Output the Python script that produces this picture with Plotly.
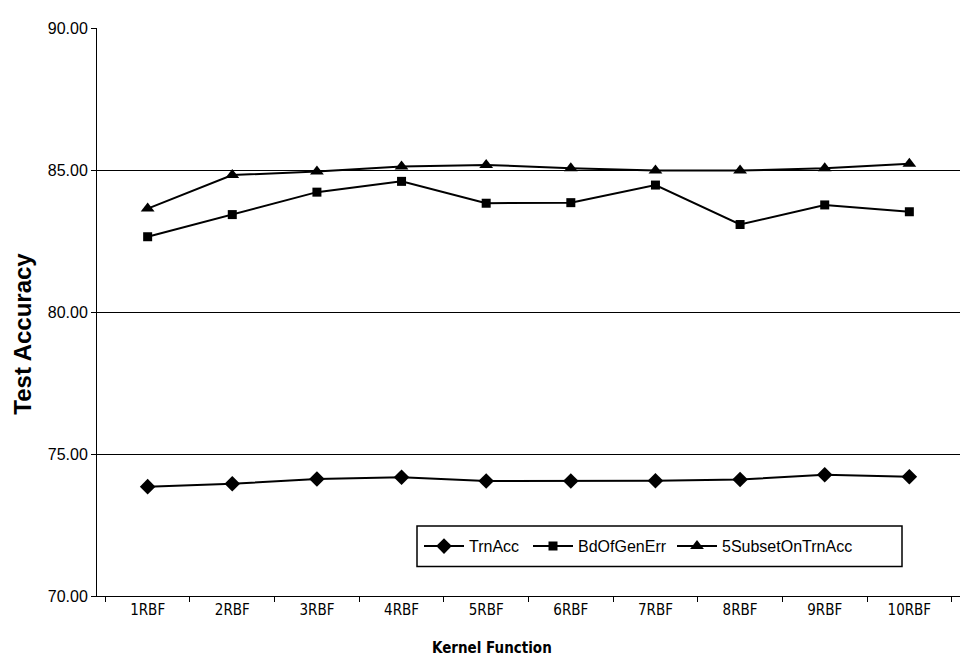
import plotly.graph_objects as go

categories = ["1RBF", "2RBF", "3RBF", "4RBF", "5RBF", "6RBF", "7RBF", "8RBF", "9RBF", "10RBF"]
trn_acc = [73.85, 73.95, 74.12, 74.18, 74.05, 74.05, 74.06, 74.10, 74.27, 74.20]
bd_of_gen_err = [82.65, 83.43, 84.22, 84.60, 83.83, 83.85, 84.47, 83.08, 83.77, 83.53]
subset_on_trn = [83.64, 84.82, 84.95, 85.12, 85.18, 85.06, 84.98, 84.98, 85.06, 85.22]
y_ticks = [70, 75, 80, 85, 90]

NARROW = "Liberation Sans Narrow, DejaVu Sans Condensed, Liberation Sans"

fig = go.Figure()
series = [
    ("TrnAcc", trn_acc, "diamond", 12, "legend"),
    ("BdOfGenErr", bd_of_gen_err, "square", 9, "legend2"),
    ("5SubsetOnTrnAcc", subset_on_trn, "triangle-up", 12, "legend3"),
]
for name, vals, sym, sz, lg in series:
    fig.add_trace(go.Scatter(
        x=categories, y=vals, name=name, mode="lines+markers",
        line=dict(color="black", width=2),
        marker=dict(symbol=sym, size=sz, color="black"),
        legend=lg,
    ))

# plot area: screen x 97..960, y 20..596 (page has 8px body margin)
def px_x(x):
    return (x - 97) / 863

def px_y(y):
    return (596 - y) / 576

legend_common = dict(
    orientation="h", y=px_y(545.5), xanchor="left", yanchor="middle",
    borderwidth=0, bgcolor="rgba(0,0,0,0)", itemwidth=40,
    font=dict(family="Liberation Sans, Arial", size=16),
)

fig.update_layout(
    width=974, height=668,
    margin=dict(l=89, r=22, t=12, b=80),
    paper_bgcolor="white", plot_bgcolor="white",
    font=dict(family="Liberation Sans, Arial", color="black"),
    showlegend=True,
    legend=dict(x=px_x(419), **legend_common),
    legend2=dict(x=px_x(528), **legend_common),
    legend3=dict(x=px_x(672), **legend_common),
    shapes=[dict(
        type="rect", xref="paper", yref="paper",
        x0=px_x(417), x1=px_x(902), y0=px_y(566), y1=px_y(525),
        line=dict(color="black", width=1.5), fillcolor="white", layer="above",
    )],
    xaxis=dict(
        tickson="boundaries", ticks="outside", ticklen=5, tickcolor="black",
        showline=True, linecolor="black", linewidth=1, showgrid=False,
        tickfont=dict(family=NARROW, size=15),
    ),
    yaxis=dict(
        range=[70, 90], tickvals=y_ticks, tickformat=".2f",
        ticks="outside", ticklen=5, tickcolor="black",
        showline=True, linecolor="black", linewidth=1,
        showgrid=True, gridcolor="black", gridwidth=1, zeroline=False,
        tickfont=dict(family="Liberation Sans, Arial", size=16),
    ),
    annotations=[
        dict(text="<b>Kernel Function</b>", xref="paper", x=px_x(492),
             yref="paper", y=px_y(649), yanchor="middle", showarrow=False,
             font=dict(family=NARROW, size=15)),
        dict(text="<b>Test Accuracy</b>", xref="paper", x=-(97 - 23) / 863,
             yref="paper", y=px_y(330), xanchor="center", yanchor="middle",
             textangle=-90, showarrow=False,
             font=dict(family="Liberation Sans, Arial", size=24)),
    ],
)

fig.write_html("out.html")
